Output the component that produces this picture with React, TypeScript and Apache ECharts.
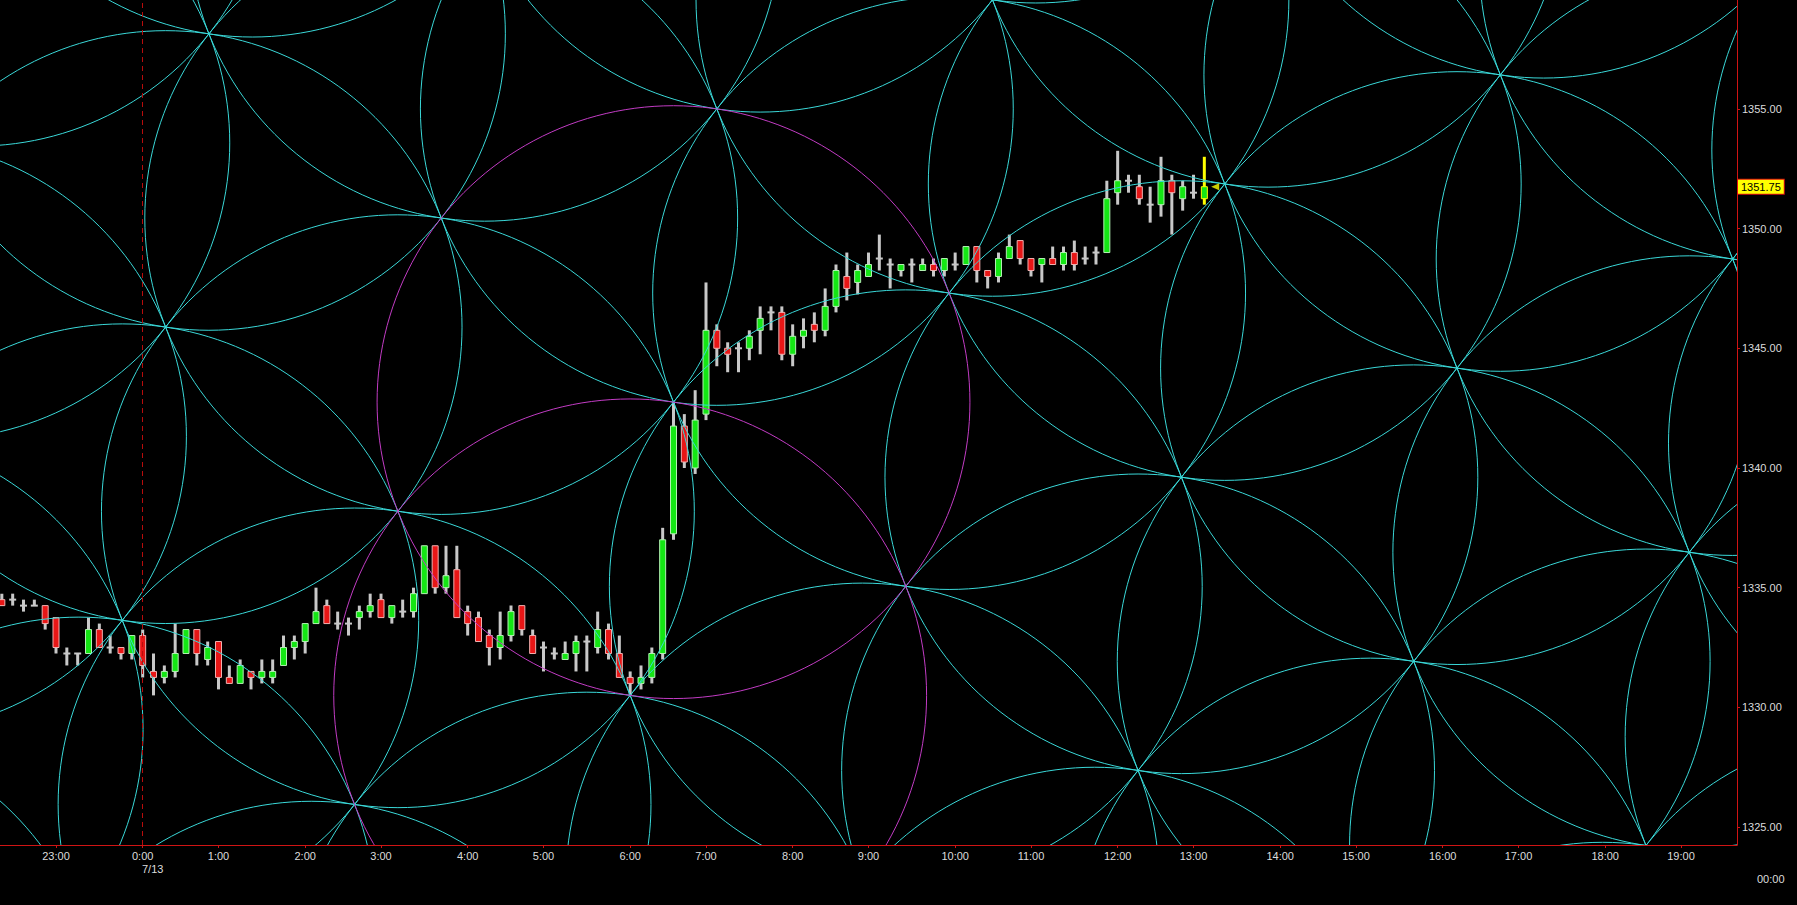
import React, { useEffect, useRef } from "react";
import * as echarts from "echarts";

// 8-minute bars, bar index 0 = 0:00 on 7/13
const FIRST_BAR = -13;
const opens = [
  1334.5, 1334.5, 1334.25, 1334.25, 1334.25, 1333.75, 1332.25, 1332.25, 1332.25, 1333.25, 1332.5, 1332.5, 1332.25,
  1333.0, 1331.5, 1331.25, 1331.5, 1332.25, 1333.25, 1332.0, 1332.75, 1331.25, 1331.0, 1331.5, 1331.25, 1331.25,
  1331.75, 1332.5, 1332.75, 1333.5, 1334.25, 1333.5, 1333.5, 1333.75, 1334.0, 1334.5, 1333.75, 1334.0, 1334.0,
  1334.75, 1336.75, 1335.0, 1335.75, 1334.0, 1333.75, 1333.0, 1332.5, 1333.0, 1334.25, 1333.0, 1332.5, 1332.25,
  1332.0, 1332.25, 1332.75, 1332.5, 1333.25, 1332.25, 1331.25, 1331.0, 1331.25, 1332.25, 1337.25, 1341.75, 1340.0,
  1342.25, 1345.75, 1345.0, 1345.0, 1345.0, 1345.75, 1346.5, 1346.5, 1344.75, 1345.5, 1346.0, 1345.75, 1346.75,
  1348.0, 1347.75, 1348.0, 1348.75, 1348.5, 1348.25, 1348.5, 1348.25, 1348.5, 1348.25, 1348.5, 1348.5, 1349.25,
  1348.25, 1348.0, 1348.75, 1349.5, 1348.75, 1348.5, 1348.75, 1348.5, 1349.0, 1348.75, 1349.0, 1349.0, 1351.5,
  1352.0, 1351.75, 1351.0, 1351.0, 1352.0, 1351.25, 1351.5, 1351.25,
];
const highs = [
  1334.75, 1334.75, 1334.5, 1334.5, 1334.25, 1333.75, 1332.5, 1332.25, 1333.75, 1333.5, 1333.0, 1332.5, 1333.0,
  1333.25, 1332.25, 1331.75, 1333.5, 1333.25, 1333.25, 1332.75, 1332.75, 1331.75, 1332.0, 1331.5, 1332.0, 1332.0,
  1333.0, 1333.0, 1333.5, 1335.0, 1334.5, 1334.0, 1333.75, 1334.25, 1334.75, 1334.75, 1334.25, 1334.5, 1335.0,
  1336.75, 1336.75, 1336.75, 1336.75, 1334.25, 1334.0, 1333.25, 1334.0, 1334.25, 1334.25, 1333.25, 1332.75, 1332.5,
  1332.75, 1333.0, 1333.0, 1334.0, 1333.5, 1333.0, 1331.5, 1331.75, 1332.5, 1337.5, 1342.75, 1342.25, 1343.25,
  1347.75, 1346.0, 1345.25, 1345.25, 1345.75, 1346.75, 1346.75, 1346.75, 1346.0, 1346.25, 1346.5, 1347.5, 1348.5,
  1349.0, 1348.5, 1349.0, 1349.75, 1348.75, 1348.5, 1348.75, 1348.75, 1348.75, 1348.75, 1349.0, 1349.25, 1349.25,
  1348.25, 1349.0, 1349.75, 1349.5, 1348.75, 1348.75, 1349.25, 1349.25, 1349.5, 1349.25, 1349.25, 1352.0, 1353.25,
  1352.25, 1352.25, 1351.75, 1353.0, 1352.25, 1352.0, 1352.25, 1353.0,
];
const lows = [
  1334.25, 1334.25, 1334.0, 1334.25, 1333.25, 1332.25, 1331.75, 1331.75, 1332.25, 1332.5, 1332.25, 1332.0, 1332.0,
  1331.25, 1330.5, 1331.0, 1331.25, 1332.25, 1331.75, 1331.75, 1330.75, 1331.0, 1331.0, 1330.75, 1331.0, 1331.0,
  1331.75, 1332.0, 1332.25, 1333.5, 1333.5, 1333.25, 1333.0, 1333.25, 1333.75, 1333.75, 1333.5, 1333.75, 1333.75,
  1334.75, 1334.75, 1334.75, 1333.75, 1333.0, 1332.75, 1331.75, 1332.0, 1332.75, 1333.0, 1332.25, 1331.5, 1332.0,
  1332.0, 1331.5, 1331.5, 1332.25, 1332.0, 1331.25, 1330.5, 1330.75, 1331.0, 1332.0, 1337.0, 1340.0, 1339.75,
  1342.0, 1344.25, 1344.0, 1344.0, 1344.5, 1344.75, 1345.75, 1344.5, 1344.25, 1345.0, 1345.25, 1345.5, 1346.5,
  1347.0, 1347.25, 1348.0, 1348.25, 1347.5, 1348.0, 1347.75, 1348.25, 1348.0, 1348.0, 1348.25, 1348.5, 1347.75,
  1347.5, 1347.75, 1348.75, 1348.5, 1348.0, 1347.75, 1348.5, 1348.25, 1348.25, 1348.5, 1348.5, 1349.0, 1351.0,
  1351.5, 1351.0, 1350.25, 1350.5, 1349.75, 1350.75, 1351.25, 1351.0,
];
const closes = [
  1334.25, 1334.5, 1334.25, 1334.25, 1333.5, 1332.5, 1332.25, 1332.25, 1333.25, 1332.5, 1332.5, 1332.25, 1333.0,
  1331.75, 1331.25, 1331.5, 1332.25, 1333.25, 1332.25, 1332.5, 1331.25, 1331.0, 1331.75, 1331.25, 1331.5, 1331.5,
  1332.5, 1332.75, 1333.5, 1334.0, 1333.5, 1333.5, 1333.5, 1334.0, 1334.25, 1333.75, 1334.25, 1334.0, 1334.75,
  1336.75, 1335.0, 1335.5, 1333.75, 1333.5, 1332.75, 1332.5, 1333.0, 1334.0, 1333.25, 1332.25, 1332.5, 1332.25,
  1332.25, 1332.75, 1332.75, 1333.25, 1332.25, 1331.25, 1331.0, 1331.25, 1332.25, 1337.0, 1341.75, 1340.25, 1342.0,
  1345.75, 1345.0, 1344.75, 1345.0, 1345.5, 1346.25, 1346.5, 1344.75, 1345.5, 1345.75, 1345.75, 1346.75, 1348.25,
  1347.5, 1348.25, 1348.5, 1348.75, 1348.5, 1348.5, 1348.5, 1348.5, 1348.25, 1348.75, 1348.5, 1349.25, 1348.25,
  1348.0, 1348.75, 1349.25, 1348.75, 1348.25, 1348.75, 1348.5, 1349.0, 1348.5, 1348.75, 1349.0, 1351.25, 1352.0,
  1352.0, 1351.25, 1351.0, 1352.0, 1351.5, 1351.75, 1351.5, 1351.75,
];

const hourLabels = [
  "23:00", "0:00", "1:00", "2:00", "3:00", "4:00", "5:00", "6:00", "7:00", "8:00", "9:00",
  "10:00", "11:00", "12:00", "13:00", "14:00", "15:00", "16:00", "17:00", "18:00", "19:00",
];
const hourBars = [-8, 0, 7, 15, 22, 30, 37, 45, 52, 60, 67, 75, 82, 90, 97, 105, 112, 120, 127, 135, 142];
const dateLabel = "7/13";
const dayBreakBar = 0;
const priceTicks = [1325, 1330, 1335, 1340, 1345, 1350, 1355];
const lastPrice = 1351.75;
const lastPriceBar = 99;
// flower-of-life drawing: centre (high of 6:32 bar) and radius point (low of 6:00 bar)
const flowerAnchors = [[49, 1342.75, 45, 1330.5]];

const CYAN = "#3ad8d8";
const MAGENTA = "#c23cc4";
const RED_AXIS = "#d01414";
const WICK = "#c8c8c8";
const UP = "#14e614";
const DOWN = "#e81616";
const YELLOW = "#ffff00";
const FONT = "Liberation Sans";

export default function App() {
  const ref = useRef<HTMLDivElement>(null);
  useEffect(() => {
    if (!ref.current) return;
    const chart = echarts.init(ref.current, null, { renderer: "svg" });
    const candleData = opens.map((o, k) => [FIRST_BAR + k, o, closes[k], lows[k], highs[k]]);
    const n = candleData.length;

    const option: any = {
      animation: false,
      backgroundColor: "#000000",
      grid: { left: 0, right: 60, top: 0, bottom: 60, containLabel: false },
      xAxis: {
        type: "value",
        min: -13.17,
        max: 147.17,
        axisLine: { show: true, onZero: false, lineStyle: { color: RED_AXIS, width: 1 } },
        axisTick: { show: true, length: 3, lineStyle: { color: RED_AXIS }, customValues: hourBars },
        splitLine: { show: false },
        axisLabel: {
          customValues: hourBars,
          color: "#dcdcdc",
          fontFamily: FONT,
          fontSize: 11,
          lineHeight: 13,
          margin: 4,
          formatter: (v: number) => {
            const k = hourBars.indexOf(Math.round(v));
            if (k < 0) return "";
            return v === dayBreakBar ? hourLabels[k] + "\n{d|" + dateLabel + "}" : hourLabels[k];
          },
          rich: { d: { color: "#dcdcdc", fontFamily: FONT, fontSize: 11, lineHeight: 13, padding: [0, 0, 0, 20] } },
        },
      },
      yAxis: {
        type: "value",
        position: "right",
        min: 1324.25,
        max: 1359.55,
        axisLine: { show: true, onZero: false, lineStyle: { color: RED_AXIS, width: 1 } },
        axisTick: { show: true, length: 3, lineStyle: { color: RED_AXIS }, customValues: priceTicks },
        splitLine: { show: false },
        axisLabel: {
          customValues: priceTicks,
          color: "#dcdcdc",
          fontFamily: FONT,
          fontSize: 11,
          margin: 5,
          formatter: (v: number) => v.toFixed(2),
        },
      },
      graphic: [
        {
          type: "text",
          left: 1757,
          top: 873,
          style: { text: "00:00", fill: "#dcdcdc", font: `11px "${FONT}"` },
        },
      ],
      series: [
        {
          type: "custom",
          name: "candles",
          z: 2,
          silent: true,
          clip: true,
          encode: { x: 0, y: [1, 2, 3, 4] },
          data: candleData,
          renderItem: (params: any, api: any) => {
            const x = api.value(0);
            const o = api.value(1);
            const c = api.value(2);
            const l = api.value(3);
            const h = api.value(4);
            const last = params.dataIndex === n - 1;
            const pH = api.coord([x, h]);
            const pL = api.coord([x, l]);
            const pO = api.coord([x, o]);
            const pC = api.coord([x, c]);
            const cx = pH[0];
            const wickColor = last ? YELLOW : WICK;
            const children: any[] = [
              {
                type: "rect",
                shape: { x: cx - 1.5, y: pH[1], width: 3, height: Math.max(1, pL[1] - pH[1]) },
                style: { fill: wickColor },
              },
            ];
            if (o === c) {
              children.push({
                type: "rect",
                shape: { x: cx - 3.5, y: pO[1] - 1, width: 7, height: 2 },
                style: { fill: wickColor },
              });
            } else {
              const top = Math.min(pO[1], pC[1]);
              const bot = Math.max(pO[1], pC[1]);
              const up = c > o;
              children.push({
                type: "rect",
                shape: { x: cx - 3, y: top, width: 6, height: bot - top },
                style: {
                  fill: up ? UP : DOWN,
                  stroke: last ? YELLOW : up ? "#b4f0b4" : "#f0b0b0",
                  lineWidth: 1,
                },
              });
            }
            return { type: "group", children };
          },
        },
        {
          type: "custom",
          name: "flower",
          z: 3,
          silent: true,
          clip: true,
          encode: { x: [0, 2], y: [1, 3] },
          data: flowerAnchors,
          renderItem: (params: any, api: any) => {
            const cs = params.coordSys;
            const pA = api.coord([api.value(0), api.value(1)]);
            const pB = api.coord([api.value(2), api.value(3)]);
            const wx = pB[0] - pA[0];
            const wy = pB[1] - pA[1];
            const r = Math.hypot(wx, wy);
            const c60 = 0.5;
            const s60 = Math.sqrt(3) / 2;
            const vx = wx * c60 - wy * s60;
            const vy = wx * s60 + wy * c60;
            const children: any[] = [];
            for (let a = -12; a <= 12; a++) {
              for (let b = -12; b <= 12; b++) {
                if ((a === 0 && b === 0) || (a === 1 && b === 0)) continue;
                const cx = pA[0] + a * wx + b * vx;
                const cy = pA[1] + a * wy + b * vy;
                if (cx < cs.x - r || cx > cs.x + cs.width + r || cy < cs.y - r || cy > cs.y + cs.height + r) continue;
                children.push({
                  type: "circle",
                  shape: { cx, cy, r },
                  style: { fill: "none", stroke: CYAN, lineWidth: 1 },
                });
              }
            }
            children.push({ type: "circle", shape: { cx: pA[0], cy: pA[1], r }, style: { fill: "none", stroke: MAGENTA, lineWidth: 1 } });
            children.push({ type: "circle", shape: { cx: pB[0], cy: pB[1], r }, style: { fill: "none", stroke: MAGENTA, lineWidth: 1 } });
            return { type: "group", children };
          },
        },
        {
          type: "scatter",
          name: "last",
          z: 4,
          silent: true,
          clip: false,
          symbol: "triangle",
          symbolRotate: 90,
          symbolSize: [7, 8],
          itemStyle: { color: YELLOW },
          data: [[lastPriceBar, lastPrice]],
          markLine: {
            silent: true,
            symbol: ["none", "none"],
            animation: false,
            data: [
              {
                xAxis: dayBreakBar,
                lineStyle: { color: "#b80c0c", type: [5, 4], width: 1 },
                label: { show: false },
              },
              {
                yAxis: lastPrice,
                lineStyle: { color: "rgba(0,0,0,0)", width: 1, type: "solid" },
                label: {
                  show: true,
                  position: "end",
                  distance: 1,
                  formatter: lastPrice.toFixed(2),
                  color: "#000000",
                  fontFamily: FONT,
                  fontSize: 11,
                  lineHeight: 13,
                  backgroundColor: YELLOW,
                  borderColor: "#e01010",
                  borderWidth: 1,
                  padding: [1, 3, 0, 3],
                },
              },
            ],
          },
        },
      ],
    };
    chart.setOption(option);
    return () => chart.dispose();
  }, []);
  return (
    <div
      ref={ref}
      style={{ position: "fixed", left: 0, top: 0, width: 1797, height: 905, background: "#000" }}
    />
  );
}
